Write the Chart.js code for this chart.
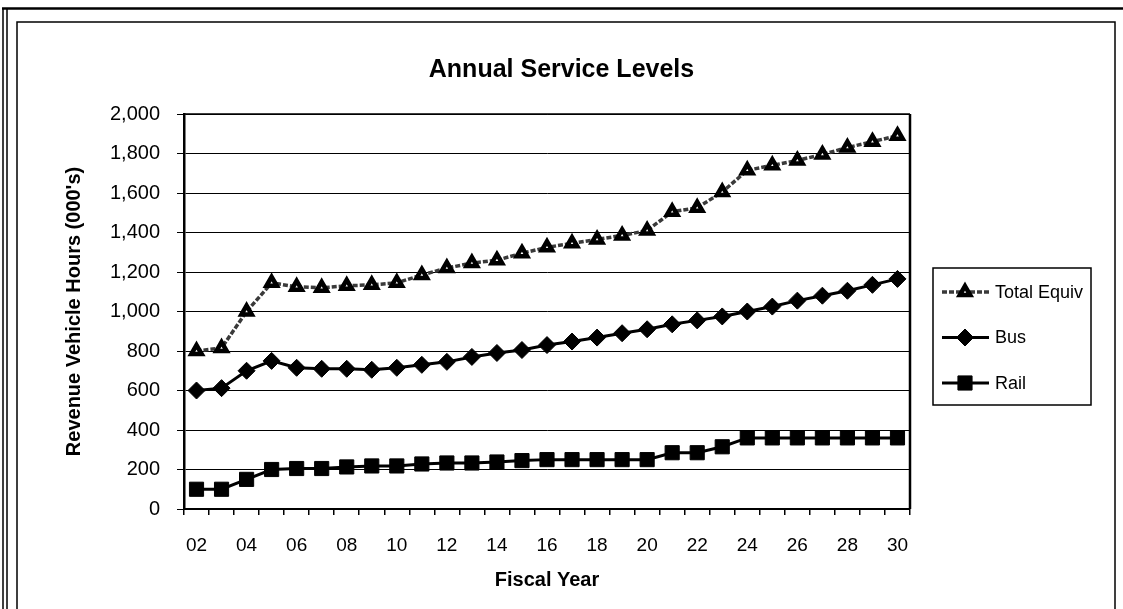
<!DOCTYPE html>
<html>
<head>
<meta charset="utf-8">
<script src="https://cdn.jsdelivr.net/npm/chart.js@4.4.1/dist/chart.umd.min.js"></script>
<style>
  html, body { margin: 0; padding: 0; background: #fff; }
  #wrap { width: 1123px; height: 609px; position: relative; }
</style>
</head>
<body>
<div id="wrap"><canvas id="c" width="1123" height="609"></canvas></div>
<script>
// Fiscal years (two-digit) on the category axis
const fiscalYears = ['02','03','04','05','06','07','08','09','10','11','12','13','14','15','16',
                     '17','18','19','20','21','22','23','24','25','26','27','28','29','30'];

// Revenue vehicle hours, thousands
const totalEquiv = [800, 815, 1000, 1145, 1125, 1120, 1130, 1135, 1145, 1185, 1220, 1245, 1260, 1295, 1325,
                    1345, 1365, 1385, 1410, 1505, 1525, 1605, 1715, 1740, 1765, 1795, 1830, 1860, 1890];
const bus        = [600, 612, 700, 750, 715, 710, 710, 705, 715, 730, 745, 770, 790, 805, 830,
                    848, 868, 890, 910, 935, 955, 975, 1000, 1025, 1055, 1080, 1105, 1135, 1165];
const rail       = [100, 100, 150, 200, 205, 205, 213, 218, 218, 228, 233, 233, 238, 245, 250,
                    250, 250, 250, 250, 285, 285, 315, 360, 360, 360, 360, 360, 360, 360];

const seriesNames = ['Total Equiv', 'Bus', 'Rail'];
const yMin = 0, yMax = 2000, yStep = 200;

const FONT = '"Liberation Sans", Arial, Helvetica, sans-serif';

// Page frame and chart-area border
const framePlugin = {
  id: 'frame',
  beforeDraw(chart) {
    const ctx = chart.ctx;
    ctx.save();
    ctx.fillStyle = '#fff';
    ctx.fillRect(0, 0, chart.width, chart.height);
    ctx.strokeStyle = '#000';
    ctx.lineWidth = 1.5;
    ctx.beginPath();
    ctx.moveTo(3, 8); ctx.lineTo(3, chart.height);
    ctx.moveTo(7, 8); ctx.lineTo(7, chart.height);
    ctx.stroke();
    ctx.lineWidth = 2.5;
    ctx.beginPath();
    ctx.moveTo(2, 8.5); ctx.lineTo(chart.width, 8.5);
    ctx.stroke();
    ctx.lineWidth = 1.5;
    ctx.strokeRect(17, 22, 1115 - 17, chart.height + 20);
    ctx.restore();
  },
  afterDatasetsDraw(chart) {
    // plot-area box (top and right edges)
    const a = chart.chartArea, ctx = chart.ctx;
    ctx.save();
    ctx.strokeStyle = '#000';
    ctx.lineWidth = 1.5;
    ctx.beginPath();
    ctx.moveTo(a.left, a.top); ctx.lineTo(a.right, a.top);
    ctx.stroke();
    ctx.lineWidth = 2.5;
    ctx.beginPath();
    ctx.moveTo(a.right, a.top); ctx.lineTo(a.right, a.bottom);
    ctx.stroke();
    ctx.restore();
  }
};

// Boxed legend to the right of the plot
const boxLegend = {
  id: 'boxLegend',
  afterDraw(chart) {
    const ctx = chart.ctx, a = chart.chartArea;
    const left = a.right + 23, top = 268, w = 158, h = 137;
    ctx.save();
    ctx.strokeStyle = '#000';
    ctx.lineWidth = 1.5;
    ctx.strokeRect(left, top, w, h);
    chart.data.datasets.forEach((ds, i) => {
      const y = top + 24 + i * 45.5;
      ctx.save();
      ctx.strokeStyle = ds.borderColor;
      ctx.lineWidth = ds.borderWidth;
      ctx.setLineDash(ds.borderDash || []);
      ctx.beginPath();
      ctx.moveTo(left + 9, y); ctx.lineTo(left + 56, y);
      ctx.stroke();
      ctx.setLineDash([]);
      ctx.fillStyle = ds.pointBackgroundColor;
      ctx.strokeStyle = ds.pointBorderColor;
      ctx.lineWidth = ds.pointBorderWidth;
      Chart.helpers.drawPoint(ctx, {
        pointStyle: ds.pointStyle, radius: ds.pointRadius, rotation: 0,
        borderWidth: ds.pointBorderWidth
      }, left + 32, y);
      ctx.restore();
      ctx.fillStyle = '#000';
      ctx.font = '18px ' + FONT;
      ctx.textBaseline = 'middle';
      ctx.textAlign = 'left';
      ctx.fillText(ds.label, left + 62, y + 1);
    });
    ctx.restore();
  }
};

new Chart(document.getElementById('c'), {
  type: 'line',
  data: {
    labels: fiscalYears,
    datasets: [
      {
        label: seriesNames[0], data: totalEquiv,
        borderColor: '#3a3a3a', borderWidth: 3.5, borderDash: [5, 2],
        pointStyle: 'triangle', pointRadius: 6,
        pointBackgroundColor: '#fff', pointBorderColor: '#000', pointBorderWidth: 4.5,
        tension: 0
      },
      {
        label: seriesNames[1], data: bus,
        borderColor: '#000', borderWidth: 3,
        pointStyle: 'rectRot', pointRadius: 8.5,
        pointBackgroundColor: '#000', pointBorderColor: '#000', pointBorderWidth: 1,
        tension: 0
      },
      {
        label: seriesNames[2], data: rail,
        borderColor: '#000', borderWidth: 3,
        pointStyle: 'rect', pointRadius: 10,
        pointBackgroundColor: '#000', pointBorderColor: '#000', pointBorderWidth: 1,
        tension: 0
      }
    ]
  },
  options: {
    responsive: false,
    animation: false,
    layout: { padding: 0 },
    plugins: {
      legend: { display: false },
      tooltip: { enabled: false },
      title: {
        display: true,
        text: 'Annual Service Levels',
        color: '#000',
        font: { family: FONT, size: 25, weight: 'bold' },
        padding: { top: 55, bottom: 29 }
      }
    },
    scales: {
      x: {
        type: 'category',
        offset: true,
        afterFit(s) { s.height = 100; },
        grid: {
          display: true, drawOnChartArea: false, offset: true,
          tickLength: 6, color: '#000', tickColor: '#000', lineWidth: 1.5
        },
        border: { color: '#000', width: 2 },
        ticks: {
          autoSkip: false, maxRotation: 0, minRotation: 0, padding: 19,
          color: '#000', font: { family: FONT, size: 19 },
          callback(v, i) { return i % 2 === 0 ? fiscalYears[i] : ''; }
        },
        title: {
          display: true, text: 'Fiscal Year', color: '#000',
          font: { family: FONT, size: 20, weight: 'bold' },
          padding: { top: 0, bottom: 17 }
        }
      },
      y: {
        min: yMin, max: yMax,
        afterFit(s) { s.width = 184; },
        grid: { color: '#000', tickColor: '#000', lineWidth: 1, tickLength: 7 },
        border: { color: '#000', width: 2.5 },
        ticks: {
          stepSize: yStep, padding: 17, color: '#000',
          font: { family: FONT, size: 20 },
          callback(v) { return v.toLocaleString('en-US'); }
        },
        title: {
          display: true, text: "Revenue Vehicle Hours (000's)", color: '#000',
          font: { family: FONT, size: 20, weight: 'bold' },
          padding: { top: 62, bottom: 0 }
        }
      },
      // empty right-hand scale that reserves the legend column
      legendSpace: {
        type: 'linear', position: 'right', display: true,
        afterFit(s) { s.width = 213; },
        grid: { display: false }, border: { display: false },
        ticks: { display: false }, title: { display: false }
      }
    }
  },
  plugins: [framePlugin, boxLegend]
});
</script>
</body>
</html>
